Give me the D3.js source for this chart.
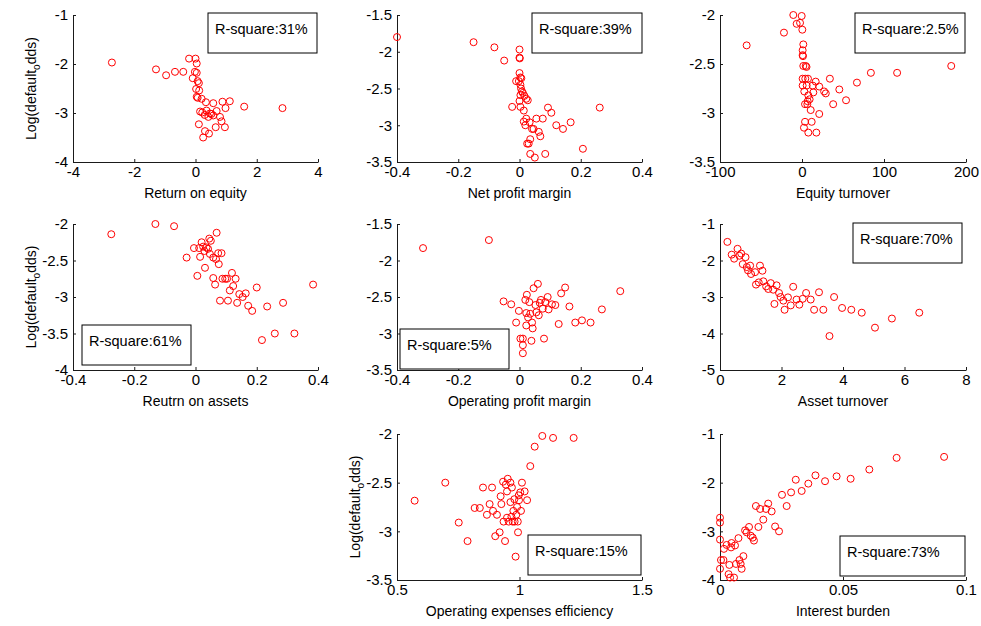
<!DOCTYPE html>
<html lang="en">
<head>
<meta charset="UTF-8">
<title>Log default odds vs ratios</title>
<style>
  body { margin: 0; background: #fff; }
  svg text { font-family: Arial, "Liberation Sans", sans-serif; fill: #000; }
</style>
</head>
<body>
<svg id="chart"></svg>
<script src="https://d3js.org/d3.v7.min.js"></script>
<script>
// x-axis titles and R-square labels, one per panel
const xLabels = ['Return on equity', 'Net profit margin', 'Equity turnover',
  'Reutrn on assets', 'Operating profit margin', 'Asset turnover',
  'Operating expenses efficiency', 'Interest burden'];
const rSquare = ['31%', '39%', '2.5%', '61%', '5%', '70%', '15%', '73%'];

// tick values
const roeXTicks = [-4, -2, 0, 2, 4], roeYTicks = [-4, -3, -2, -1];
const npmXTicks = [-0.4, -0.2, 0, 0.2, 0.4], npmYTicks = [-3.5, -3, -2.5, -2, -1.5];
const etXTicks = [-100, 0, 100, 200], etYTicks = [-3.5, -3, -2.5, -2];
const roaXTicks = [-0.4, -0.2, 0, 0.2, 0.4], roaYTicks = [-4, -3.5, -3, -2.5, -2];
const opmXTicks = [-0.4, -0.2, 0, 0.2, 0.4], opmYTicks = [-3.5, -3, -2.5, -2, -1.5];
const atXTicks = [0, 2, 4, 6, 8], atYTicks = [-5, -4, -3, -2, -1];
const oeeXTicks = [0.5, 1, 1.5], oeeYTicks = [-3.5, -3, -2.5, -2];
const ibXTicks = [0, 0.05, 0.1], ibYTicks = [-4, -3, -2, -1];

// Return on equity
const roeX = [-2.73, -1.29, -0.96, -0.67, -0.40, -0.21, 0.0, 0.04, -0.02, 0.04, -0.09, 0.07, 0.11, 0.02, 0.12,
  0.04, 0.07, 0.2, 0.34, 0.15, 0.22, 0.36, 0.58, 0.88, 1.12, 0.98, 1.59, 2.84, 0.47, 0.69, 0.42, 0.58, 0.80,
  0.85, 0.11, 0.66, 0.96, 0.31, 0.44, 0.25, 0.52, 0.30];
const roeY = [-1.97, -2.11, -2.23, -2.16, -2.16, -1.89, -1.89, -1.99, -2.16, -2.18, -2.29, -2.35, -2.39, -2.51, -2.54,
  -2.67, -2.69, -2.71, -2.78, -2.97, -2.99, -2.95, -2.80, -2.77, -2.76, -2.90, -2.87, -2.90, -3.01, -2.96, -3.08,
  -3.05, -3.08, -3.17, -3.23, -3.29, -3.29, -3.37, -3.42, -3.50, -3.02, -3.04];

// Net profit margin
const npmX = [-0.4, -0.15, -0.082, -0.05, 0.0, 0.0, 0.001, 0.0, 0.003, 0.006, -0.011, -0.002, 0.003, 0.005, 0.008,
  0.011, 0.003, 0.016, 0.022, 0.027, 0.0, -0.024, 0.003, 0.014, 0.022, 0.014, 0.019, 0.033, 0.055, 0.076,
  0.093, 0.104, 0.12, 0.142, 0.167, 0.262, 0.207, 0.041, 0.046, 0.063, 0.068, 0.035, 0.025, 0.030, 0.035,
  0.05, 0.084];
const npmY = [-1.80, -1.87, -1.94, -2.12, -1.97, -2.08, -2.09, -2.29, -2.35, -2.36, -2.40, -2.40, -2.45, -2.50, -2.54,
  -2.56, -2.59, -2.60, -2.64, -2.66, -2.67, -2.75, -2.75, -2.80, -2.91, -2.95, -3.00, -2.96, -2.91, -2.91,
  -2.76, -2.83, -3.00, -3.05, -2.96, -2.76, -3.32, -3.05, -3.05, -3.09, -3.15, -3.19, -3.25, -3.25, -3.39,
  -3.44, -3.39];

// Equity turnover
const etX = [-67.5, -22, -10.6, -0.4, -6.5, -2.4, 0.4, 1.6, 0.8, 0.8, 1.2, 1.6, 4.5, 5.5, 0.8, 4, 7.3, 0.8, 5.7,
  13, 16.7, 21, 27, 29, 34, 45.5, 38, 53.7, 67, 84, 116, 182, 2.8, 7.7, 13.8, 3.7, 6.9, 9.3, 10.6, 6.5,
  21, 3.7, 11.8, 2.4, 7.7, 17.5];
const etY = [-2.31, -2.18, -2.00, -2.01, -2.09, -2.08, -2.15, -2.30, -2.36, -2.41, -2.42, -2.52, -2.52, -2.53, -2.65,
  -2.65, -2.65, -2.72, -2.72, -2.72, -2.68, -2.73, -2.78, -2.80, -2.65, -2.76, -2.91, -2.87, -2.69, -2.59,
  -2.59, -2.52, -2.78, -2.82, -2.79, -2.91, -2.88, -2.86, -2.97, -2.91, -3.01, -3.09, -3.09, -3.15, -3.20,
  -3.20];

// Return on assets
const roaX = [-0.275, -0.131, -0.07, -0.029, -0.005, 0.006, 0.012, 0.015, 0.02, 0.025, 0.029, 0.031, 0.036, 0.041,
  0.045, 0.05, 0.047, 0.058, 0.067, 0.069, 0.074, 0.085, 0.076, 0.058, 0.064, 0.088, 0.097, 0.103, 0.119,
  0.131, 0.123, 0.112, 0.08, 0.106, 0.136, 0.143, 0.154, 0.164, 0.172, 0.185, 0.2, 0.234, 0.286, 0.217,
  0.259, 0.323, 0.384];
const roaY = [-2.14, -2.0, -2.03, -2.46, -2.33, -2.71, -2.33, -2.45, -2.25, -2.31, -2.37, -2.60, -2.32, -2.34,
  -2.20, -2.23, -2.41, -2.46, -2.48, -2.12, -2.40, -2.40, -2.55, -2.74, -2.83, -2.75, -2.75, -2.75, -2.67,
  -2.75, -2.85, -2.91, -3.05, -3.05, -3.08, -2.96, -3.0, -2.95, -3.12, -3.19, -2.87, -3.13, -3.08, -3.59,
  -3.50, -3.50, -2.83];

// Operating profit margin
const opmX = [-0.315, -0.10, -0.052, -0.027, -0.011, -0.002, 0.003, 0.011, 0.011, 0.011, 0.019, 0.024, 0.022,
  0.022, 0.032, 0.035, 0.039, 0.041, 0.043, 0.046, 0.052, 0.055, 0.06, 0.063, 0.07, 0.076, 0.08, 0.084,
  0.092, 0.095, 0.106, 0.117, 0.128, 0.136, 0.149, 0.163, 0.182, 0.204, 0.232, 0.269, 0.329, 0.028, 0.066];
const opmY = [-1.83, -1.72, -2.56, -2.60, -2.85, -2.69, -3.07, -3.07, -3.16, -3.27, -2.54, -2.47, -2.72, -2.89,
  -2.57, -2.73, -3.10, -2.85, -2.93, -2.38, -2.61, -2.71, -2.32, -2.75, -2.54, -2.66, -3.07, -2.57, -2.50,
  -2.67, -2.60, -2.61, -2.87, -2.45, -2.37, -2.63, -2.85, -2.82, -2.85, -2.67, -2.42, -2.78, -2.58];

// Asset turnover
const atX = [0.24, 0.38, 0.46, 0.57, 0.63, 0.69, 0.74, 0.83, 0.87, 0.91, 0.98, 1.01, 1.14, 1.17, 1.26, 1.30, 1.38,
  1.41, 1.50, 1.57, 1.65, 1.73, 1.77, 1.84, 1.92, 1.97, 2.06, 2.10, 2.21, 2.30, 2.38, 2.49, 2.58, 2.69,
  2.80, 2.95, 3.06, 3.22, 3.36, 3.56, 3.71, 3.97, 4.27, 4.61, 5.04, 5.59, 6.48];
const atY = [-1.49, -1.84, -1.95, -1.68, -1.87, -1.81, -2.10, -1.91, -2.18, -2.27, -2.14, -2.37, -2.32, -2.66,
  -2.60, -2.14, -2.28, -2.57, -2.71, -2.78, -2.62, -2.80, -3.19, -2.68, -2.89, -3.00, -3.10, -3.35, -3.01,
  -3.23, -2.72, -3.07, -3.21, -3.05, -2.89, -3.07, -3.35, -2.87, -3.35, -4.07, -3.0, -3.30, -3.35, -3.43,
  -3.84, -3.59, -3.43];

// Operating expenses efficiency
const oeeX = [0.572, 0.697, 0.752, 0.788, 0.817, 0.838, 0.851, 0.867, 0.878, 0.888, 0.892, 0.901, 0.908, 0.919,
  0.923, 0.926, 0.933, 0.935, 0.941, 0.944, 0.949, 0.952, 0.949, 0.956, 0.963, 0.963, 0.967, 0.969, 0.972,
  0.975, 0.979, 0.980, 0.984, 0.987, 0.99, 0.993, 0.994, 0.997, 0.998, 1.003, 1.006, 1.010, 1.021, 1.031,
  1.044, 1.062, 1.093, 1.137, 1.221];
const oeeY = [-2.685, -2.50, -2.91, -3.10, -2.76, -2.76, -2.55, -2.83, -2.72, -2.55, -2.79, -3.05, -2.83, -3.01,
  -2.64, -2.72, -2.49, -2.90, -3.10, -2.52, -2.59, -2.46, -2.86, -2.90, -2.50, -2.70, -2.85, -2.55, -2.90,
  -2.79, -2.67, -2.90, -3.26, -2.83, -2.75, -2.90, -3.01, -2.63, -2.68, -2.60, -2.79, -2.50, -2.59, -2.68,
  -2.33, -2.13, -2.02, -2.04, -2.04];

// Interest burden
const ibX = [0.0, 0.0, 0.0, 0.0, 0.0004, 0.0014, 0.0016, 0.0027, 0.0035, 0.0038, 0.0041, 0.0045, 0.0047, 0.0057,
  0.0061, 0.0065, 0.0075, 0.0079, 0.0084, 0.0088, 0.0095, 0.0102, 0.0108, 0.0118, 0.0125, 0.0133, 0.0138,
  0.0146, 0.0156, 0.0163, 0.0176, 0.0187, 0.0196, 0.0210, 0.0224, 0.0240, 0.0252, 0.0271, 0.0289, 0.0308,
  0.0332, 0.0359, 0.0388, 0.0427, 0.0474, 0.0531, 0.0607, 0.0718, 0.0911];
const ibY = [-2.72, -2.82, -3.17, -3.77, -3.59, -3.59, -3.36, -3.28, -3.88, -3.69, -3.95, -3.33, -3.24, -3.95,
  -3.29, -3.67, -3.14, -3.59, -3.67, -3.77, -3.51, -2.98, -3.02, -2.91, -3.09, -3.13, -3.19, -2.48, -2.91,
  -2.54, -2.76, -2.54, -2.43, -2.59, -2.90, -3.00, -2.25, -2.48, -2.20, -1.94, -2.17, -2.02, -1.85, -1.97,
  -1.87, -1.92, -1.73, -1.49, -1.47];

const width = 981, height = 626;
const colX = [73, 397, 720], colW = [245, 245, 246];
const rowY = [15, 224, 434], rowH = [147, 146, 146];

const panels = [
  { col: 0, row: 0, xs: roeX, ys: roeY, xd: [-4, 4], yd: [-4, -1], xt: roeXTicks, yt: roeYTicks, yLab: true, box: [135, -2, 109] },
  { col: 1, row: 0, xs: npmX, ys: npmY, xd: [-0.4, 0.4], yd: [-3.5, -1.5], xt: npmXTicks, yt: npmYTicks, yLab: false, box: [135, -2, 110] },
  { col: 2, row: 0, xs: etX, ys: etY, xd: [-100, 200], yd: [-3.5, -2], xt: etXTicks, yt: etYTicks, yLab: false, box: [135, -2, 110] },
  { col: 0, row: 1, xs: roaX, ys: roaY, xd: [-0.4, 0.4], yd: [-4, -2], xt: roaXTicks, yt: roaYTicks, yLab: true, box: [9, 101, 109] },
  { col: 1, row: 1, xs: opmX, ys: opmY, xd: [-0.4, 0.4], yd: [-3.5, -1.5], xt: opmXTicks, yt: opmYTicks, yLab: false, box: [3, 105, 109] },
  { col: 2, row: 1, xs: atX, ys: atY, xd: [0, 8], yd: [-5, -1], xt: atXTicks, yt: atYTicks, yLab: false, box: [133, -1, 109] },
  { col: 1, row: 2, xs: oeeX, ys: oeeY, xd: [0.5, 1.5], yd: [-3.5, -2], xt: oeeXTicks, yt: oeeYTicks, yLab: true, box: [131, 101, 113] },
  { col: 2, row: 2, xs: ibX, ys: ibY, xd: [0, 0.1], yd: [-4, -1], xt: ibXTicks, yt: ibYTicks, yLab: false, box: [120, 102, 125] }
];

const svg = d3.select('#chart')
  .attr('width', width)
  .attr('height', height);

const fmt = d => String(+d.toFixed(4));

panels.forEach((p, i) => {
  const w = colW[p.col], h = rowH[p.row];
  const g = svg.append('g')
    .attr('transform', `translate(${colX[p.col]},${rowY[p.row]})`);

  const x = d3.scaleLinear().domain(p.xd).range([0, w]);
  const y = d3.scaleLinear().domain(p.yd).range([h, 0]);

  const xAxis = g.append('g')
    .attr('transform', `translate(0,${h})`)
    .call(d3.axisBottom(x).tickValues(p.xt).tickFormat(fmt)
      .tickSizeInner(-3).tickSizeOuter(0).tickPadding(4));
  const yAxis = g.append('g')
    .call(d3.axisLeft(y).tickValues(p.yt).tickFormat(fmt)
      .tickSizeInner(-3).tickSizeOuter(0).tickPadding(5));

  [xAxis, yAxis].forEach(a => {
    a.select('.domain').attr('stroke', '#1a1a1a');
    a.selectAll('.tick line').attr('stroke', '#1a1a1a');
    a.selectAll('.tick text')
      .attr('font-size', 15)
      .attr('font-family', 'Arial, "Liberation Sans", sans-serif')
      .attr('fill', '#000');
  });

  g.append('text')
    .attr('x', w / 2)
    .attr('y', h + 36)
    .attr('text-anchor', 'middle')
    .attr('font-size', 14)
    .text(xLabels[i]);

  if (p.yLab) {
    const t = g.append('text')
      .attr('transform', `translate(-37,${h / 2}) rotate(-90)`)
      .attr('text-anchor', 'middle')
      .attr('font-size', 14);
    t.append('tspan').text('Log(default');
    t.append('tspan').attr('dy', 4).attr('font-size', 10).text('o');
    t.append('tspan').attr('dy', -4).text('dds)');
  }

  g.selectAll('circle.pt')
    .data(d3.range(p.xs.length))
    .join('circle')
    .attr('class', 'pt')
    .attr('cx', k => x(p.xs[k]))
    .attr('cy', k => y(p.ys[k]))
    .attr('r', 3.5)
    .attr('fill', 'none')
    .attr('stroke', '#ff0000')
    .attr('stroke-width', 1);

  const [bx, by, bw] = p.box;
  g.append('rect')
    .attr('x', bx).attr('y', by)
    .attr('width', bw).attr('height', 40)
    .attr('fill', '#fff')
    .attr('stroke', '#000')
    .attr('stroke-width', 1);
  g.append('text')
    .attr('x', bx + 7)
    .attr('y', by + 21)
    .attr('font-size', 14.5)
    .text('R-square:' + rSquare[i]);
});
</script>
</body>
</html>
